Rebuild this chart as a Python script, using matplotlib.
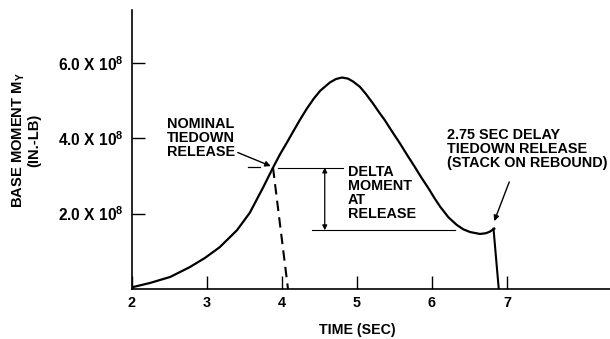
import matplotlib
matplotlib.use("Agg")
import matplotlib.pyplot as plt

plt.rcParams['font.family'] = ['Liberation Sans', 'DejaVu Sans']
plt.rcParams['font.weight'] = 'bold'
plt.rcParams['mathtext.fontset'] = 'custom'
plt.rcParams['mathtext.rm'] = 'Liberation Sans:bold'
plt.rcParams['mathtext.it'] = 'Liberation Sans:bold'
plt.rcParams['mathtext.bf'] = 'Liberation Sans:bold'

# base moment curve, time in sec, moment in units of 1e8 in-lb
time = [2.00, 2.01, 2.24, 2.51, 2.77, 2.97, 3.17, 3.40, 3.57, 3.75, 3.88,
        3.97, 4.07, 4.15, 4.24, 4.33, 4.42, 4.51, 4.64, 4.72, 4.80, 4.88,
        4.95, 5.04, 5.12, 5.21, 5.29, 5.37, 5.47, 5.57, 5.67, 5.77, 5.86,
        5.95, 6.03, 6.11, 6.22, 6.33, 6.42, 6.51, 6.64, 6.72, 6.77, 6.83]
moment = [0.00, 0.05, 0.16, 0.32, 0.58, 0.82, 1.11, 1.56, 2.02, 2.70, 3.22,
          3.56, 3.90, 4.18, 4.49, 4.78, 5.04, 5.26, 5.48, 5.57, 5.61, 5.58,
          5.50, 5.36, 5.17, 4.93, 4.70, 4.48, 4.17, 3.87, 3.55, 3.24, 2.95,
          2.68, 2.42, 2.18, 1.90, 1.70, 1.58, 1.51, 1.46, 1.48, 1.52, 1.60]

# nominal release drop (dashed) and delayed release drop
nominal_t = [3.88, 4.08]
nominal_m = [3.22, 0.0]
delay_t = [6.82, 6.89]
delay_m = [1.60, 0.0]

yticks = [2, 4, 6]
ytick_labels = ['2.0 X 10$^{8}$', '4.0 X 10$^{8}$', '6.0 X 10$^{8}$']
xticks = [2, 3, 4, 5, 6, 7]

fig = plt.figure(figsize=(6.1, 3.39), dpi=100)
ax = fig.add_axes([132/610, 50/339, 478/610, 279/339])

ax.plot(time, moment, color='black', lw=1.6, solid_joinstyle='round')
ax.plot(nominal_t, nominal_m, color='black', lw=1.5, dashes=(5, 3))
ax.plot(delay_t, delay_m, color='black', lw=1.5)

# delta moment bracket
ax.plot([3.95, 4.81], [3.22, 3.22], color='black', lw=0.8)
ax.plot([4.40, 6.31], [1.56, 1.56], color='black', lw=0.8)
ax.annotate('', xy=(4.57, 3.22), xytext=(4.57, 1.56),
            arrowprops=dict(arrowstyle='<|-|>', color='black', lw=0.9,
                            mutation_scale=7, shrinkA=0, shrinkB=0))
ax.plot([3.55, 3.70], [3.24, 3.24], color='black', lw=0.9)

ax.text(2.47, 4.56, 'NOMINAL\nTIEDOWN\nRELEASE', fontsize=10.4, va='top',
        ha='left', linespacing=1.0)
ax.annotate('', xy=(3.85, 3.26), xytext=(3.41, 3.62),
            arrowprops=dict(arrowstyle='-|>', color='black', lw=1.0,
                            mutation_scale=8, shrinkA=0, shrinkB=0))

ax.text(4.88, 3.30, 'DELTA\nMOMENT\nAT\nRELEASE', fontsize=10.4, va='top',
        ha='left', linespacing=1.0)

ax.text(6.2, 4.27, '2.75 SEC DELAY\nTIEDOWN RELEASE\n(STACK ON REBOUND)',
        fontsize=10.4, va='top', ha='left', linespacing=1.0)
ax.annotate('', xy=(6.83, 1.80), xytext=(7.03, 2.84),
            arrowprops=dict(arrowstyle='-|>', color='black', lw=1.0,
                            mutation_scale=8, shrinkA=0, shrinkB=0))

ax.set_xlim(2, 2 + 478/75)
ax.set_ylim(0, 279/37.7)
ax.set_xticks(xticks)
ax.set_xticklabels([str(t) for t in xticks], fontsize=10.4)
ax.set_yticks(yticks)
ax.set_yticklabels(ytick_labels, fontsize=11.2)
ax.tick_params(axis='both', direction='in', length=9.5, width=1.0, color='black')
ax.tick_params(axis='x', pad=5)
ax.tick_params(axis='y', pad=6)

for s in ['top', 'right']:
    ax.spines[s].set_visible(False)
for s in ['left', 'bottom']:
    ax.spines[s].set_linewidth(1.2)

ax.text(5.0, -1.1, 'TIME (SEC)', fontsize=10.2, ha='center', va='center')
fig.text(26/610, 1 - 140/339, 'BASE MOMENT M$_{Y}$\n(IN.-LB)', rotation=90,
         fontsize=10.6, ha='center', va='center', linespacing=1.1)

fig.savefig('out.png', dpi=100)
